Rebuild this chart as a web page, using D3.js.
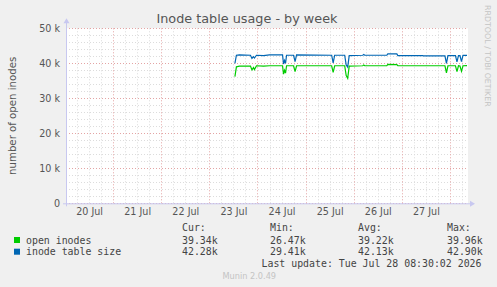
<!DOCTYPE html>
<html>
<head>
<meta charset="utf-8">
<script src="https://cdn.jsdelivr.net/npm/d3@7"></script>
<style>
body{margin:0;background:#f0f0f0}
svg{display:block}
text{font-family:"DejaVu Sans",sans-serif}
.mono{font-family:"DejaVu Sans Mono",monospace;font-size:9.9px;fill:#444}
</style>
</head>
<body>
<div id="chart"></div>
<script>
// samples (30 min steps where it moves), values in inodes
var times=["2026-07-23 12:45","2026-07-23 13:30","2026-07-23 15:00","2026-07-23 20:30","2026-07-23 21:15","2026-07-23 22:00","2026-07-23 22:30","2026-07-23 23:30","2026-07-24 03:00","2026-07-24 06:00","2026-07-24 12:30","2026-07-24 13:00","2026-07-24 13:30","2026-07-24 14:00","2026-07-24 14:30","2026-07-24 18:00","2026-07-24 18:45","2026-07-24 19:30","2026-07-25 13:00","2026-07-25 13:45","2026-07-25 14:30","2026-07-25 19:30","2026-07-25 20:15","2026-07-25 21:00","2026-07-25 21:45","2026-07-26 04:30","2026-07-26 05:00","2026-07-26 05:30","2026-07-26 16:30","2026-07-26 17:00","2026-07-26 21:30","2026-07-26 22:00","2026-07-27 10:30","2026-07-27 11:00","2026-07-27 21:30","2026-07-27 22:15","2026-07-27 23:00","2026-07-28 02:45","2026-07-28 03:30","2026-07-28 04:15","2026-07-28 05:00","2026-07-28 05:45","2026-07-28 06:30","2026-07-28 08:30"]
var openInodes=[36200,39000,39200,39200,38100,38800,38200,39300,39200,39300,39300,36900,38000,37200,39300,39300,37600,39300,39300,37400,39300,39300,36500,35700,39200,39300,39500,39300,39300,39700,39600,39300,39300,39300,39300,37300,39300,39300,37600,39300,39200,37700,39300,39340]
var tableSize=[40000,42300,42400,42300,41400,41900,41500,42300,42200,42400,42400,39800,40800,40000,42300,42300,40500,42400,42300,40100,42300,42300,39500,38900,42200,42300,42500,42300,42300,42700,42700,42200,42200,42100,42100,40000,42200,42200,40400,42200,42200,40500,42300,42280]
var yTicks=[0,10000,20000,30000,40000,50000]
var dayTicks=["2026-07-20","2026-07-21","2026-07-22","2026-07-23","2026-07-24","2026-07-25","2026-07-26","2026-07-27"]
var legendNames=["open inodes","inode table size"]
var legendColors=["#00cc00","#0066b3"]
var statCur=["39.34k","42.28k"]
var statMin=["26.47k","29.41k"]
var statAvg=["39.22k","42.13k"]
var statMax=["39.96k","42.90k"]

var W=497,H=287
var parse=d3.timeParse("%Y-%m-%d %H:%M")
var parseDay=d3.timeParse("%Y-%m-%d")
var L=66,R=468,T=28.3,B=203.3

var svg=d3.select('#chart').append('svg')
    .attr('width',W).attr('height',H)

var x=d3.scaleTime()
    .domain([parse("2026-07-20 00:30"),parse("2026-07-28 09:00")])
    .range([L,R])
var y=d3.scaleLinear().domain([0,50000]).range([B,T])

svg.append('rect').attr('x',L).attr('y',T).attr('width',R-L).attr('height',B-T).attr('fill','#fff')

// grid: minor grey, major red
var g=svg.append('g')
var minorY=d3.range(0,50001,2000)
g.selectAll('.hy').data(minorY).enter().append('line')
    .attr('x1',L).attr('x2',R).attr('y1',d=>Math.round(y(d))+.5).attr('y2',d=>Math.round(y(d))+.5)
    .attr('stroke',d=>d%10000==0?'#e4a4a4':'#dcdcdc').attr('stroke-dasharray','1,2')
var minorX=d3.timeHour.every(6).range(x.domain()[0],x.domain()[1])
g.selectAll('.vx').data(minorX).enter().append('line')
    .attr('y1',T).attr('y2',B).attr('x1',d=>Math.round(x(d))+.5).attr('x2',d=>Math.round(x(d))+.5)
    .attr('stroke',d=>d.getHours()==0?'#e4a4a4':'#dcdcdc').attr('stroke-dasharray','1,2')

// axes
svg.append('line').attr('x1',L+.5).attr('x2',L+.5).attr('y1',B+3).attr('y2',T-6).attr('stroke','#c8c8f0')
svg.append('path').attr('d','M'+(L-2.5)+','+(T-5)+'L'+(L+3.5)+','+(T-5)+'L'+(L+.5)+','+(T-10)+'Z').attr('fill','#c8c8f0')
svg.append('line').attr('x1',L-3).attr('x2',R+3).attr('y1',B+.5).attr('y2',B+.5).attr('stroke','#c8c8f0')
svg.append('path').attr('d','M'+(R+2)+','+(B-2.5)+'L'+(R+2)+','+(B+3.5)+'L'+(R+7)+','+(B+.5)+'Z').attr('fill','#c8c8f0')

var yAxis=svg.append('g').attr('transform','translate('+(L-6)+',0)')
    .call(d3.axisLeft(y).tickValues(yTicks).tickSize(0).tickPadding(0)
	  .tickFormat(d=>d==0?'0':(d/1000)+' k'))
yAxis.select('.domain').remove()
yAxis.selectAll('text').attr('font-size','9.6px').attr('fill','#555').attr('font-family','DejaVu Sans')

var days=dayTicks.map(d=>d3.timeHour.offset(parseDay(d),12))
var xAxis=svg.append('g').attr('transform','translate(0,'+(B+4)+')')
    .call(d3.axisBottom(x).tickValues(days).tickSize(0).tickPadding(1)
	  .tickFormat(d3.timeFormat('%-d Jul')))
xAxis.select('.domain').remove()
xAxis.selectAll('text').attr('font-size','9.6px').attr('fill','#555').attr('font-family','DejaVu Sans')

// series
var pts=times.map(parse)
function drawLine(vals,color){
    var line=d3.line().x((d,i)=>x(pts[i])).y(d=>y(d))
    svg.append('path').datum(vals).attr('d',line)
	.attr('fill','none').attr('stroke',color).attr('stroke-width',1.2)
}
drawLine(tableSize,legendColors[1])
drawLine(openInodes,legendColors[0])

// titles
svg.append('text').attr('x',247).attr('y',23).attr('text-anchor','middle')
    .attr('font-size','12.8px').attr('fill','#555').text('Inode table usage - by week')
svg.append('text').attr('transform','translate(16,'+((T+B)/2)+') rotate(-90)')
    .attr('text-anchor','middle').attr('font-size','10.2px').attr('fill','#555').text('number of open inodes')
svg.append('text').attr('transform','translate(485,5) rotate(90)')
    .attr('font-size','7.9px').attr('fill','#c4c4c4').text('RRDTOOL / TOBI OETIKER')

// legend
var cols=[[182,'Cur:',statCur],[270,'Min:',statMin],[358,'Avg:',statAvg],[447,'Max:',statMax]]
cols.forEach(function(c){
    svg.append('text').attr('class','mono').attr('x',c[0]).attr('y',231).text(c[1])
    c[2].forEach(function(v,i){
	svg.append('text').attr('class','mono').attr('x',c[0]).attr('y',243.5+i*11.7).text(v)
    })
})
legendNames.forEach(function(n,i){
    svg.append('rect').attr('x',14).attr('y',237+i*11.7).attr('width',6).attr('height',6).attr('fill',legendColors[i])
    svg.append('text').attr('class','mono').attr('x',26).attr('y',243.5+i*11.7).text(n)
})
svg.append('text').attr('class','mono').attr('x',261.5).attr('y',267).text('Last update: Tue Jul 28 08:30:02 2026')
svg.append('text').attr('x',222.5).attr('y',279).attr('font-size','8.2px').attr('fill','#c4c4c4').text('Munin 2.0.49')
</script>
</body>
</html>
